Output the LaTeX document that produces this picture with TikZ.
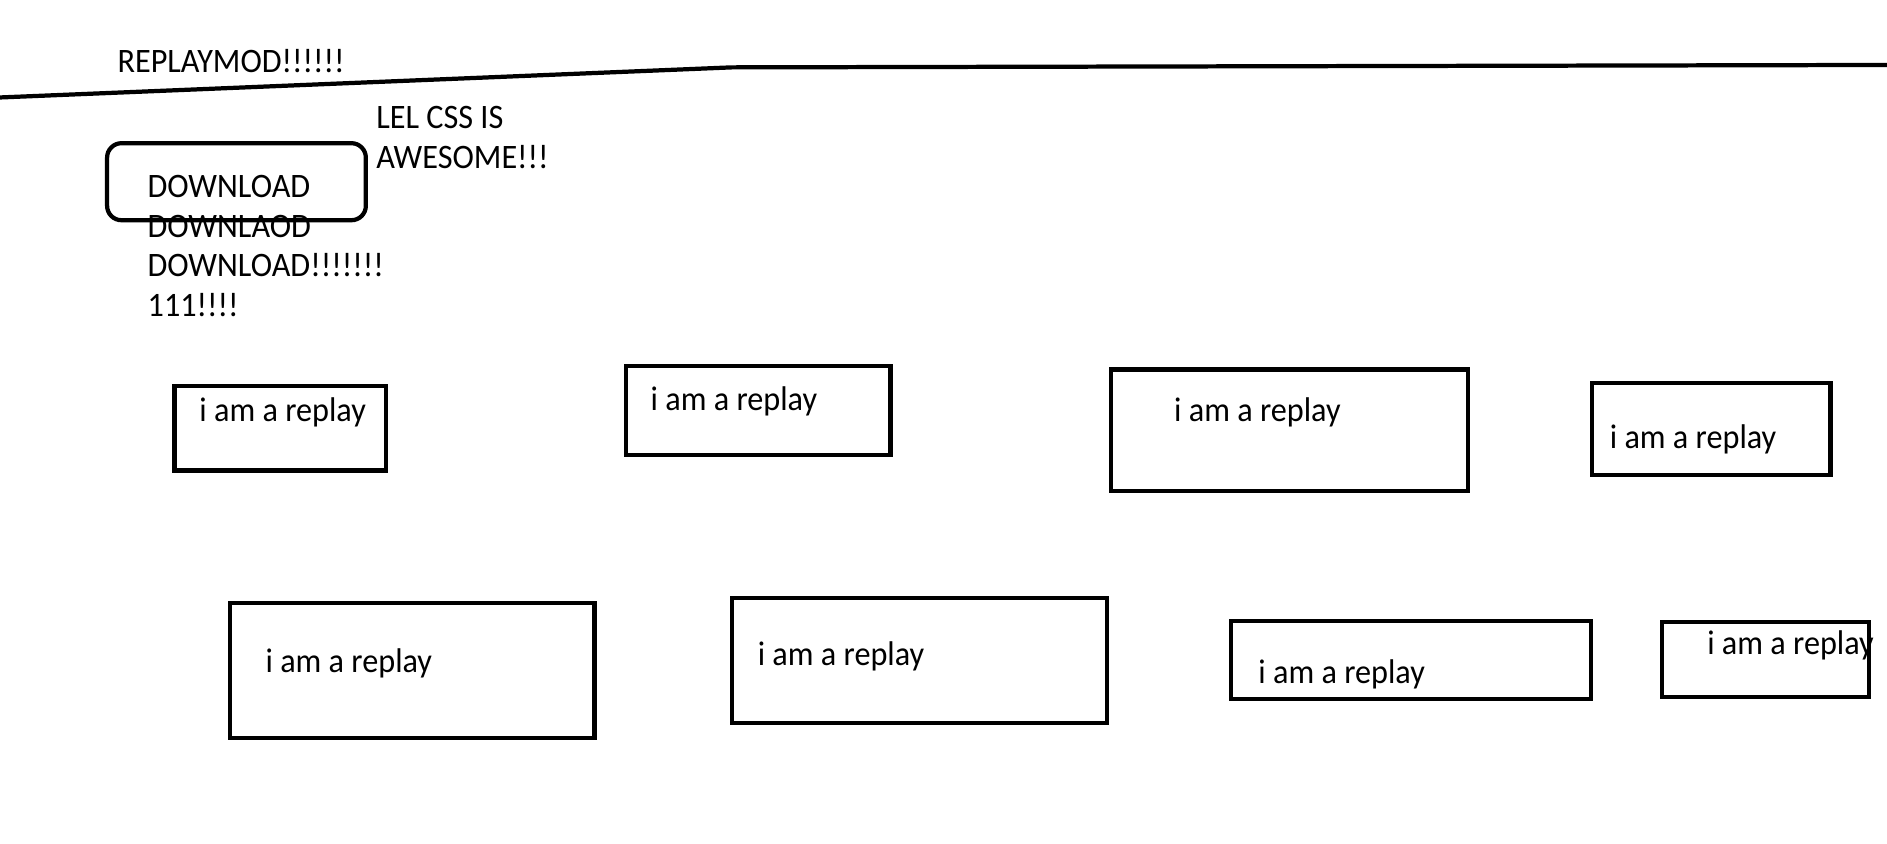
\documentclass[tikz,border=0pt]{standalone}
\usepackage{fontspec}
\setmainfont{Carlito}[FakeStretch=0.94]
\usepackage{tikz}
\def\replaybox(#1,#2)(#3,#4)(#5,#6)#7{\draw[boxline] (#1,#2) rectangle (#3,#4); \node[txt] (#7) at (#5,#6) {i am a replay};}

\begin{document}
\begin{tikzpicture}[x=0.01cm, y=-0.01cm,
		boxline/.style={line width=1pt},
		txt/.style={anchor=base west, inner sep=0pt, font=\fontsize{8.1}{9.4}\selectfont}]
				\useasboundingbox (0, 0) rectangle (1568, 701);
				
				% header
				\draw[boxline] (0, 81) -- (608, 56) -- (1568, 54);
				\node[txt] (title) at (97, 60) {REPLAYMOD!!!!!!};
				\node[txt] (lel) at (312, 107) {LEL CSS IS};
				\node[txt] (awesome) at (312, 140) {AWESOME!!!};
				
				% download button
				\draw[boxline, rounded corners=3.4pt] (89, 119) rectangle (304, 183);
				\node[txt] (dl1) at (122, 164) {DOWNLOAD};
				\node[txt] (dl2) at (122, 197) {DOWNLAOD};
				\node[txt] (dl3) at (122, 230) {DOWNLOAD!!!!!!!};
				\node[txt] (dl4) at (122, 263) {111!!!!};
				
				% replays, top row
				\replaybox(145, 321)(321, 391)(165, 350){r1}
				\replaybox(520, 304)(740, 378)(540, 341){r2}
				\replaybox(923, 307)(1220, 408)(975, 350){r3}
				\replaybox(1323, 318)(1521, 395)(1337, 373){r4}
				
				% replays, bottom row
				\replaybox(191, 501)(494, 613)(220, 559){r5}
				\replaybox(608, 497)(920, 601)(629, 553){r6}
				\replaybox(1023, 516)(1322, 581)(1045, 568){r7}
				\replaybox(1381, 517)(1553, 579)(1418, 544){r8}
			\end{tikzpicture}
\end{document}
